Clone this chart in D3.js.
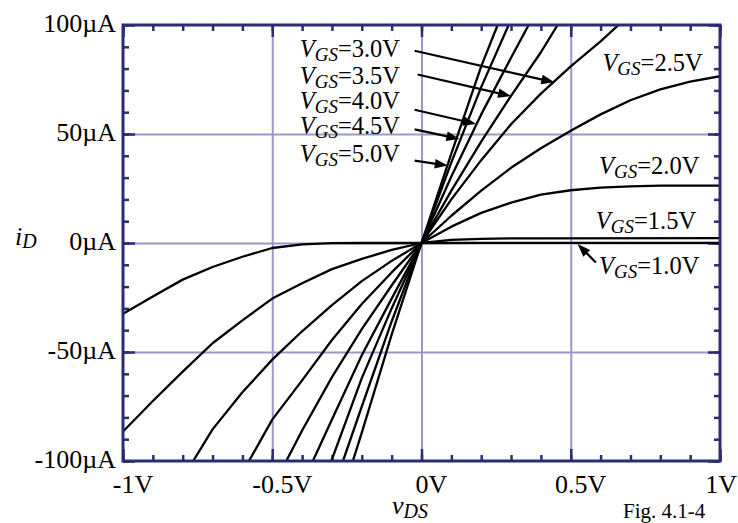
<!DOCTYPE html>
<html>
<head>
<meta charset="utf-8">
<script src="https://cdn.jsdelivr.net/npm/d3@7"></script>
<style>
  body { margin: 0; background: #fff; overflow: hidden; }
  svg { display: block; font-family: "Liberation Serif", "Times New Roman", serif; }
</style>
</head>
<body>
<div id="chart"></div>
<script>
// tick values and labels
var xTicks = [-1, -0.5, 0, 0.5, 1];
var xTickLabels = ["-1V", "-0.5V", "0V", "0.5V", "1V"];
var yTicks = [-100, -50, 0, 50, 100];
var yTickLabels = ["-100\u00b5A", "-50\u00b5A", "0\u00b5A", "50\u00b5A", "100\u00b5A"];

// one curve per gate voltage, [vDS (V), iD (uA)]
var vgs10 = [[-1, -32.5], [-0.9, -24.5], [-0.8, -16.8], [-0.7, -11], [-0.6, -6.3], [-0.5, -2.3],
             [-0.4, -0.6], [-0.3, -0.1], [-0.2, 0], [0, 0], [0.2, 0.1], [1, 0.1]];
var vgs15 = [[-1, -86.5], [-0.9, -72.5], [-0.8, -59], [-0.7, -46], [-0.6, -35.5], [-0.5, -25.5],
             [-0.4, -18.5], [-0.3, -12], [-0.2, -7.3], [-0.1, -3.2], [0, 0], [0.1, 1.4],
             [0.2, 1.9], [0.3, 2.1], [0.4, 2.15], [1, 2.2]];
var vgs20 = [[-0.765, -100], [-0.7, -85.5], [-0.6, -68.5], [-0.5, -53.5], [-0.4, -40.5], [-0.3, -28.5],
             [-0.2, -17.5], [-0.1, -8.2], [0, 0], [0.1, 7.5], [0.2, 13.8], [0.3, 18.5], [0.4, 22.2],
             [0.5, 24.2], [0.6, 25.4], [0.7, 26], [0.8, 26.3], [1, 26.3]];
var vgs25 = [[-0.578, -100], [-0.5, -81], [-0.4, -63], [-0.3, -44.5], [-0.2, -28], [-0.1, -13.5],
             [0, 0], [0.1, 12.5], [0.2, 24], [0.3, 34.5], [0.4, 43.5], [0.5, 51.5], [0.6, 59],
             [0.7, 65.5], [0.8, 70.5], [0.9, 74], [1, 76.5]];
var vgs30 = [[-0.453, -100], [-0.4, -86], [-0.3, -61.5], [-0.2, -39.5], [-0.1, -19.5], [0, 0],
             [0.1, 20], [0.2, 38], [0.3, 54.5], [0.4, 68.5], [0.5, 81], [0.6, 92.5], [0.66, 100]];
var vgs35 = [[-0.364, -100], [-0.3, -81], [-0.2, -51.5], [-0.1, -25.5], [0, 0],
             [0.1, 24], [0.2, 46.5], [0.3, 67.5], [0.4, 87.5], [0.456, 100]];
var vgs40 = [[-0.302, -100], [-0.2, -62], [-0.1, -30], [0, 0],
             [0.1, 30.5], [0.2, 59], [0.3, 85], [0.359, 100]];
var vgs45 = [[-0.263, -100], [-0.2, -75], [-0.1, -36], [0, 0],
             [0.1, 37], [0.2, 71.5], [0.292, 100]];
var vgs50 = [[-0.23, -100], [-0.2, -87], [-0.1, -42], [0, 0],
             [0.1, 41], [0.2, 81], [0.255, 100]];

var vgsValues = [1.0, 1.5, 2.0, 2.5, 3.0, 3.5, 4.0, 4.5, 5.0];
var curves = [vgs10, vgs15, vgs20, vgs25, vgs30, vgs35, vgs40, vgs45, vgs50];

// where each label sits, in data units: text start, arrow tail, arrow tip (null = no arrow)
var labelPlaces = [
  { vgs: 3.0, at: [-0.408, 85.3], tail: [-0.023, 88.2], tip: [0.445, 73.7] },
  { vgs: 3.5, at: [-0.408, 73.0], tail: [-0.013, 77.3], tip: [0.300, 67.4] },
  { vgs: 4.0, at: [-0.408, 61.5], tail: [-0.023, 61.1], tip: [0.183, 54.6] },
  { vgs: 4.5, at: [-0.408, 49.8], tail: [-0.023, 52.1], tip: [0.127, 47.7] },
  { vgs: 5.0, at: [-0.408, 37.2], tail: [-0.023, 37.8], tip: [0.088, 35.5] },
  { vgs: 2.5, at: [0.606, 79.0], tail: null, tip: null },
  { vgs: 2.0, at: [0.595, 31.7], tail: null, tip: null },
  { vgs: 1.5, at: [0.584, 6.4], tail: null, tip: null },
  { vgs: 1.0, at: [0.595, -14.2], tail: [0.584, -8.9], tip: [0.523, -0.5] }
];

var margin = { top: 25, right: 18, bottom: 62, left: 123 };
var totalW = 738, totalH = 523;
var width = totalW - margin.left - margin.right;
var height = totalH - margin.top - margin.bottom;

var frameColor = "#2c2c74";
var gridColor = "#9a98c8";

var svg = d3.select("#chart").append("svg")
    .attr("width", totalW)
    .attr("height", totalH);

var g = svg.append("g")
    .attr("transform", "translate(" + margin.left + "," + margin.top + ")");

var x = d3.scaleLinear().domain([-1, 1]).range([0, width]);
var y = d3.scaleLinear().domain([-100, 100]).range([height, 0]);

var minorX = d3.range(-10, 11).map(function(k) { return k / 10; });
var minorY = d3.range(-10, 11).map(function(k) { return k * 10; });

function styleAxis(sel, color, w) {
    sel.select(".domain").remove();
    sel.selectAll(".tick line").attr("stroke", color).attr("stroke-width", w);
    sel.selectAll(".tick text").remove();
}

// grid
g.append("g")
    .attr("transform", "translate(0," + height + ")")
    .call(d3.axisBottom(x).tickValues([-0.5, 0, 0.5]).tickSize(-height))
    .call(styleAxis, gridColor, 2);
g.append("g")
    .call(d3.axisLeft(y).tickValues([-50, 0, 50]).tickSize(-width))
    .call(styleAxis, gridColor, 2);

// inward ticks on all four sides
[[minorX, minorY, 6], [xTicks, yTicks, 12]].forEach(function(t) {
    g.append("g").attr("transform", "translate(0," + height + ")")
        .call(d3.axisBottom(x).tickValues(t[0]).tickSize(-t[2])).call(styleAxis, frameColor, 2.5);
    g.append("g")
        .call(d3.axisTop(x).tickValues(t[0]).tickSize(-t[2])).call(styleAxis, frameColor, 2.5);
    g.append("g")
        .call(d3.axisLeft(y).tickValues(t[1]).tickSize(-t[2])).call(styleAxis, frameColor, 2.5);
    g.append("g").attr("transform", "translate(" + width + ",0)")
        .call(d3.axisRight(y).tickValues(t[1]).tickSize(-t[2])).call(styleAxis, frameColor, 2.5);
});

// curves
g.append("clipPath").attr("id", "plotclip")
    .append("rect").attr("width", width).attr("height", height);

var line = d3.line()
    .x(function(d) { return x(d[0]); })
    .y(function(d) { return y(d[1]); });

g.append("g")
    .attr("clip-path", "url(#plotclip)")
    .selectAll("path")
    .data(curves)
    .enter().append("path")
    .attr("d", line)
    .attr("fill", "none")
    .attr("stroke", "#000")
    .attr("stroke-width", 2.3)
    .attr("stroke-linejoin", "round");

// frame
g.append("rect")
    .attr("width", width)
    .attr("height", height)
    .attr("fill", "none")
    .attr("stroke", frameColor)
    .attr("stroke-width", 3);

// tick labels (last one pulled in so it stays on the page)
g.append("g")
    .selectAll("text")
    .data(xTicks)
    .enter().append("text")
    .attr("x", function(d, i) { return i == xTicks.length - 1 ? totalW - margin.left - 1 : x(d) + 10; })
    .attr("y", height + 32)
    .attr("text-anchor", function(d, i) { return i == xTicks.length - 1 ? "end" : "middle"; })
    .style("font-size", "26px")
    .text(function(d, i) { return xTickLabels[i]; });

g.append("g")
    .selectAll("text")
    .data(yTicks)
    .enter().append("text")
    .attr("x", -7)
    .attr("y", function(d) { return y(d) + 7; })
    .attr("text-anchor", "end")
    .style("font-size", "26px")
    .text(function(d, i) { return yTickLabels[i]; });

// VGS labels with arrows
function arrowHead(tail, tip) {
    var x0 = x(tail[0]), y0 = y(tail[1]), x1 = x(tip[0]), y1 = y(tip[1]);
    var a = Math.atan2(y1 - y0, x1 - x0);
    var len = 13, hw = 4.8;
    var bx = x1 - len * Math.cos(a), by = y1 - len * Math.sin(a);
    return [[x1, y1],
            [bx + hw * Math.sin(a), by - hw * Math.cos(a)],
            [bx - hw * Math.sin(a), by + hw * Math.cos(a)]];
}

labelPlaces.forEach(function(p) {
    var t = g.append("text")
        .attr("x", x(p.at[0]))
        .attr("y", y(p.at[1]))
        .style("font-size", "24.5px");
    t.append("tspan").style("font-style", "italic").text("V");
    t.append("tspan").attr("dy", 4).style("font-style", "italic").style("font-size", "19px").text("GS");
    t.append("tspan").attr("dy", -4).text("=" + p.vgs.toFixed(1) + "V");

    if (p.tip) {
        var head = arrowHead(p.tail, p.tip);
        var a = Math.atan2(y(p.tip[1]) - y(p.tail[1]), x(p.tip[0]) - x(p.tail[0]));
        g.append("line")
            .attr("x1", x(p.tail[0]))
            .attr("y1", y(p.tail[1]))
            .attr("x2", x(p.tip[0]) - 10 * Math.cos(a))
            .attr("y2", y(p.tip[1]) - 10 * Math.sin(a))
            .attr("stroke", "#000")
            .attr("stroke-width", 2.2);
        g.append("path")
            .attr("d", "M" + head.join("L") + "Z")
            .attr("fill", "#000");
    }
});

// axis titles
var iLab = svg.append("text")
    .attr("x", 15)
    .attr("y", 245)
    .style("font-size", "26px")
    .style("font-style", "italic");
iLab.append("tspan").text("i");
iLab.append("tspan").attr("dy", 3).style("font-size", "20px").text("D");

var vLab = svg.append("text")
    .attr("x", 392)
    .attr("y", 514)
    .style("font-size", "26px")
    .style("font-style", "italic");
vLab.append("tspan").text("v");
vLab.append("tspan").attr("dy", 4).style("font-size", "20px").text("DS");

svg.append("text")
    .attr("x", 623)
    .attr("y", 518)
    .style("font-size", "21px")
    .text("Fig. 4.1-4");
</script>
</body>
</html>
